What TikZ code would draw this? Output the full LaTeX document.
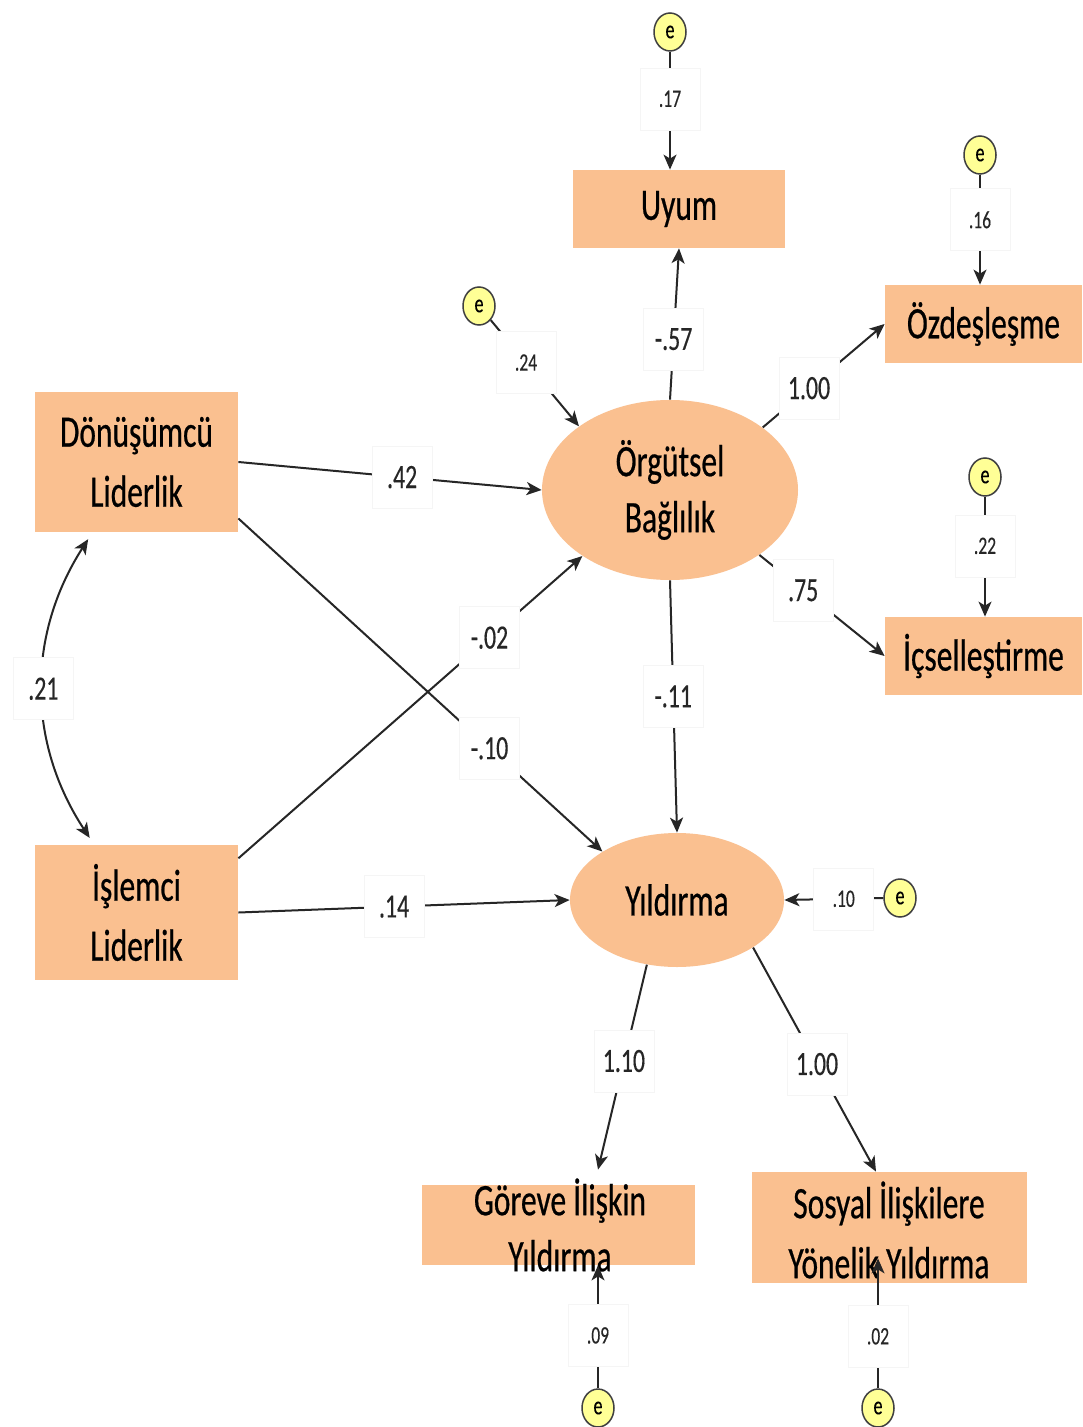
\documentclass[tikz,border=0pt]{standalone}
\usepackage{fontspec}
\setmainfont{Carlito}
\newfontfamily\bigf{Carlito}[FakeStretch=0.7,FakeBold=0.5]
\newfontfamily\lblf{Carlito}[FakeStretch=0.7,FakeBold=0.3]
\usetikzlibrary{arrows.meta,shapes.geometric,calc}
\definecolor{peach}{RGB}{250,192,144}
\definecolor{eyel}{RGB}{255,255,150}
\begin{document}
\begin{tikzpicture}[x=0.5pt,y=-0.5pt,
 vbox/.style={rectangle,fill=peach,inner sep=0pt},
 vell/.style={ellipse,fill=peach,inner sep=0pt},
 bigtxt/.style={font=\bigf\fontsize{22.5}{28}\selectfont,align=center,inner sep=0pt},
 errc/.style={ellipse,fill=eyel,draw=black!75,line width=0.75pt,minimum width=16pt,minimum height=19pt,inner sep=0pt,font=\lblf\fontsize{13}{13}\selectfont},
 lbl/.style={fill=white,draw=black!4,line width=0.3pt,minimum width=30pt,minimum height=31pt,inner sep=1pt,font=\lblf\fontsize{17}{17}\selectfont},
 sl/.style={lbl,font=\lblf\fontsize{12.5}{12}\selectfont},
 arr/.style={-{Stealth[length=7.5pt,width=6.5pt,inset=2pt]},line width=1pt,black!85},
 tarr/.style={arr,line width=0.7pt}
]
\fill[white] (0,0) rectangle (1082,1427);
\useasboundingbox (0,0) rectangle (1082,1427);

% observed / latent variables
\node[vbox,minimum width=106pt,minimum height=39pt,bigtxt] (uyum) at (679,209) {Uyum};
\node[vbox,minimum width=98.5pt,minimum height=39pt,bigtxt] (ozd) at (983.5,324) {Özdeşleşme};
\node[vbox,minimum width=98.5pt,minimum height=39pt,bigtxt] (ics) at (983.5,656) {İçselleştirme};
\node[vell,minimum width=128pt,minimum height=90pt,bigtxt] (ob) at (670,490) {Örgütsel\\Bağlılık};
\node[vbox,minimum width=101.5pt,minimum height=70pt,bigtxt,font=\bigf\fontsize{22.5}{30}\selectfont] (dl) at (136.5,462) {Dönüşümcü\\Liderlik};
\node[vbox,minimum width=101.5pt,minimum height=67.5pt,bigtxt,font=\bigf\fontsize{22.5}{30}\selectfont] (il) at (136.5,912.5) {İşlemci\\Liderlik};
\node[vell,minimum width=107pt,minimum height=67pt,bigtxt] (yil) at (677,900) {Yıldırma};
\node[vbox,minimum width=136.5pt,minimum height=40pt] (gor) at (558.5,1225) {};
\node[bigtxt] (gortxt) at (560,1225) {Göreve İlişkin\\Yıldırma};
\node[vbox,minimum width=137.5pt,minimum height=55.5pt] (sos) at (889.5,1227.5) {};
\node[bigtxt,font=\bigf\fontsize{22.5}{30}\selectfont] (sostxt) at (889,1230) {Sosyal İlişkilere\\Yönelik Yıldırma};

% error terms
\node[errc] (e1) at (670,32) {e};
\node[errc] (e2) at (980,155) {e};
\node[errc] (e3) at (479,306) {e};
\node[errc] (e4) at (985,477) {e};
\node[errc] (e5) at (900,898) {e};
\node[errc] (e6) at (598,1408) {e};
\node[errc] (e7) at (878,1408) {e};

% error paths
\draw[tarr] (e1.south) -- node[sl,pos=0.4]{.17} (e1.south |- uyum.north);
\draw[tarr] (e2.south) -- node[sl,pos=0.41]{.16} (e2.south |- ozd.north);
\draw[arr] (e3) -- node[sl,pos=0.4]{.24} (ob.145);
\draw[tarr] (e4.south) -- node[sl,pos=0.41]{.22} (e4.south |- ics.north);
\draw[arr] (e5.west) -- node[sl,pos=0.4]{.10} (yil.east);
\draw[tarr] (e6.north) -- node[sl,pos=0.43]{.09} (e6.north |- gor.south);
\draw[tarr] (e7.north) -- node[sl,pos=0.4]{.02} ($(e7.north |- sos.south)+(0,-25)$);

% structural paths
\draw[arr] (ob.north) -- node[lbl,pos=0.4]{-.57} (uyum.south);
\draw[arr] (ob.34) -- node[lbl,pos=0.38]{1.00} (ozd.west);
\draw[arr] (ob.-36) -- node[lbl,pos=0.35]{.75} (ics.west);
\draw[arr] (dl.east) -- node[lbl,pos=0.54]{.42} (ob.west);
\draw[arr] (dl.-29) -- node[lbl,pos=0.69]{-.10} (yil.147);
\draw[arr] (il.28) -- node[lbl,pos=0.73]{-.02} (ob.217);
\draw[arr] (il.east) -- node[lbl,pos=0.47]{.14} (yil.west);
\draw[arr] (ob.south) -- node[lbl,pos=0.46]{-.11} (yil.north);
\draw[arr] (yil.-115) -- node[lbl,pos=0.47]{1.10} ([xshift=19.75pt,yshift=7.5pt]gor.north);
\draw[arr] (yil.-32) -- node[lbl,pos=0.52]{1.00} ([xshift=-6.75pt]sos.north);
\draw[{Stealth[length=7.5pt,width=6.5pt,inset=2pt]}-{Stealth[length=7.5pt,width=6.5pt,inset=2pt]},line width=1pt,black!85,shorten <=4pt,shorten >=4pt] (dl.-122) to[bend right=33] node[lbl,midway]{.21} (il.122);
\end{tikzpicture}
\end{document}
